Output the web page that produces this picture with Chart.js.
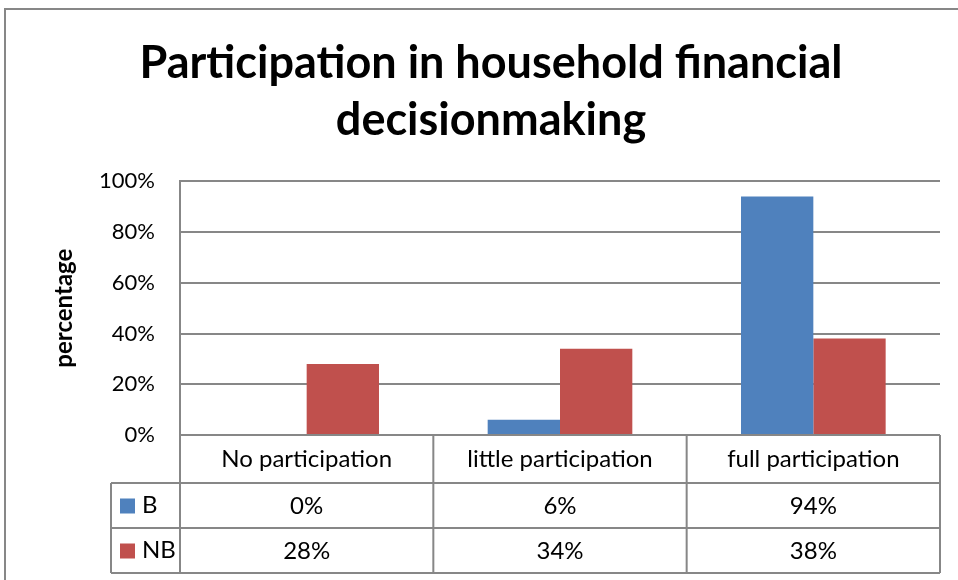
<!DOCTYPE html>
<html>
<head>
<meta charset="utf-8">
<script src="https://cdn.jsdelivr.net/npm/chart.js@4/dist/chart.umd.min.js"></script>
<style>
  html, body { margin: 0; padding: 0; background: #fff; }
  .wrap { width: 958px; height: 580px; position: relative; }
</style>
</head>
<body>
<div class="wrap"><canvas id="chart" width="958" height="580"></canvas></div>
<script>
// Chart data
const categories = ['No participation', 'little participation', 'full participation'];
const seriesNames = ['B', 'NB'];
const bValues = [0, 6, 94];
const nbValues = [28, 34, 38];
const yTicks = [0, 20, 40, 60, 80, 100];
const seriesColors = ['#4F81BD', '#C0504D'];
const titleLines = ['Participation in household financial', 'decisionmaking'];

const FONT = 'Lato, "Open Sans", sans-serif';
const GRID = '#878787';

// Outer frame of the chart
const frame = {
    id: 'frame',
    beforeDraw(chart) {
        const ctx = chart.ctx;
        ctx.save();
        ctx.fillStyle = '#fff';
        ctx.fillRect(0, 0, chart.width, chart.height);
        ctx.strokeStyle = GRID;
        ctx.lineWidth = 2;
        ctx.strokeRect(5, 9, chart.width + 10, chart.height + 10);
        ctx.restore();
    }
};

// Data table under the plot: category row, then one row per series
const dataTable = {
    id: 'dataTable',
    afterDraw(chart) {
        const ctx = chart.ctx;
        const area = chart.chartArea;
        const xs = chart.scales.x;
        const half = (xs.getPixelForValue(1) - xs.getPixelForValue(0)) / 2;
        const rows = [area.bottom, area.bottom + 48, area.bottom + 93, area.bottom + 138];
        const keyLeft = 111;
        const values = [bValues, nbValues];

        ctx.save();
        ctx.strokeStyle = GRID;
        ctx.lineWidth = 2;
        ctx.beginPath();
        // horizontal rules
        ctx.moveTo(area.left, rows[0]); ctx.lineTo(area.right, rows[0]);
        for (let r = 1; r < rows.length; r++) {
            ctx.moveTo(keyLeft, rows[r]); ctx.lineTo(area.right, rows[r]);
        }
        // vertical rules
        ctx.moveTo(keyLeft, rows[1]); ctx.lineTo(keyLeft, rows[3]);
        ctx.moveTo(area.left, rows[0]); ctx.lineTo(area.left, rows[3]);
        categories.forEach((c, i) => {
            const right = xs.getPixelForValue(i) + half;
            ctx.moveTo(right, rows[0]); ctx.lineTo(right, rows[3]);
        });
        ctx.stroke();

        ctx.fillStyle = '#000';
        ctx.textAlign = 'center';
        ctx.textBaseline = 'middle';
        ctx.font = '24px ' + FONT;
        categories.forEach((c, i) => {
            const cx = xs.getPixelForValue(i);
            ctx.fillText(c, cx, (rows[0] + rows[1]) / 2);
            values.forEach((vals, s) => {
                ctx.fillText(vals[i] + '%', cx, (rows[s + 1] + rows[s + 2]) / 2 + 1);
            });
        });

        // series keys
        ctx.textAlign = 'left';
        seriesNames.forEach((name, s) => {
            const cy = (rows[s + 1] + rows[s + 2]) / 2;
            ctx.fillStyle = seriesColors[s];
            ctx.fillRect(keyLeft + 9, cy - 7, 15, 15);
            ctx.fillStyle = '#000';
            ctx.fillText(name, keyLeft + 31, cy);
        });
        ctx.restore();
    }
};

new Chart(document.getElementById('chart'), {
    type: 'bar',
    data: {
        labels: categories,
        datasets: [
            { label: seriesNames[0], data: bValues, backgroundColor: seriesColors[0] },
            { label: seriesNames[1], data: nbValues, backgroundColor: seriesColors[1] }
        ]
    },
    options: {
        responsive: false,
        animation: false,
        devicePixelRatio: 1,
        categoryPercentage: 0.571,
        barPercentage: 1,
        layout: { padding: { left: 42, right: 18, top: 0, bottom: 0 } },
        plugins: {
            legend: { display: false },
            tooltip: { enabled: false },
            title: {
                display: true,
                text: titleLines,
                color: '#000',
                font: { family: FONT, size: 45, weight: 'bold', lineHeight: 1.27 },
                padding: { top: 35, bottom: 32 }
            }
        },
        scales: {
            x: {
                grid: { display: false },
                border: { display: false },
                ticks: { display: false },
                afterFit(scale) { scale.height = 145; }
            },
            y: {
                min: 0,
                max: 100,
                afterBuildTicks(scale) { scale.ticks = yTicks.map(v => ({ value: v })); },
                grid: { color: GRID, lineWidth: 2, drawTicks: false },
                border: { color: GRID, width: 2 },
                ticks: {
                    color: '#000',
                    padding: 25,
                    font: { family: FONT, size: 22 },
                    callback: v => v + '%'
                },
                title: {
                    display: true,
                    text: 'percentage',
                    color: '#000',
                    font: { family: FONT, size: 24, weight: 'bold' },
                    padding: { top: 8, bottom: 0 }
                },
                afterFit(scale) { scale.width = 138; }
            }
        }
    },
    plugins: [frame, dataTable]
});
</script>
</body>
</html>
